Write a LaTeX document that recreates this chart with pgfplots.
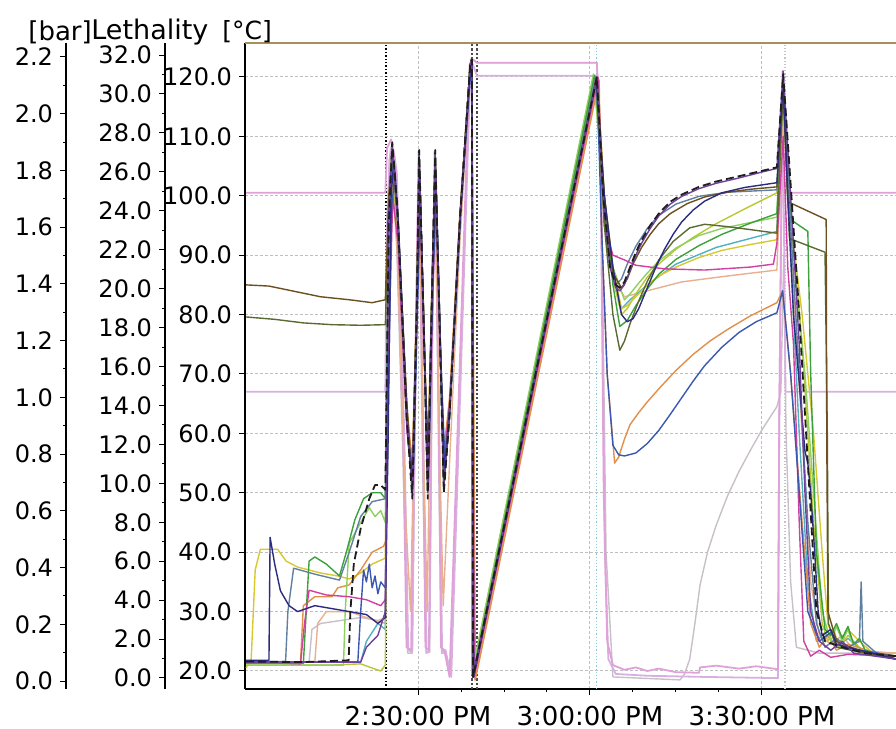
\documentclass[border=0pt]{standalone}
\usepackage{pgfplots}
\pgfplotsset{compat=1.18}
\usepackage{fontspec}
\setmainfont{DejaVu Sans}

\definecolor{cblack}{HTML}{1E1E1E}
\definecolor{cnavy}{HTML}{2B2B80}
\definecolor{cblue}{HTML}{3A58B0}
\definecolor{corange}{HTML}{E0904A}
\definecolor{cbrown}{HTML}{6B5020}
\definecolor{colive}{HTML}{5A6A30}
\definecolor{cyellow}{HTML}{D8C830}
\definecolor{clgreen}{HTML}{90D060}
\definecolor{cgreen}{HTML}{3CA03C}
\definecolor{cmagenta}{HTML}{D040A0}
\definecolor{cgblue}{HTML}{6080A0}
\definecolor{cygreen}{HTML}{B8C838}
\definecolor{cteal}{HTML}{50B0C0}
\definecolor{cpurple}{HTML}{7040A0}
\definecolor{cpeach}{HTML}{E8B090}
\definecolor{clilac}{HTML}{D8B0E0}
\definecolor{cpink}{HTML}{E0A0D8}
\definecolor{cgray}{HTML}{C8C0C8}
\definecolor{ctop}{HTML}{A89058}

\begin{document}
\begin{tikzpicture}
\pgfplotsset{
  every axis/.append style={
    scale only axis, anchor=south west, height=323pt,
    font=\fontsize{12}{14}\selectfont,
    /pgf/number format/assume math mode=true,
    tick align=outside, major tick length=3pt, minor tick length=1.5pt,
    tick style={black, line width=0.5pt},
    axis line style={black, line width=0.9pt},
  },
}
% [bar] axis
\begin{axis}[at={(33pt,20pt)}, width=1pt,
  xmin=0, xmax=1, axis x line=none, axis y line*=left,
  ymin=-0.028, ymax=2.249,
  ytick={0,0.2,0.4,0.6,0.8,1.0,1.2,1.4,1.6,1.8,2.0,2.2},
  minor y tick num=1,
  yticklabel style={/pgf/number format/.cd, fixed, fixed zerofill, precision=1},
]
\end{axis}
% Lethality axis
\begin{axis}[at={(82.5pt,20pt)}, width=1pt,
  xmin=0, xmax=1, axis x line=none, axis y line*=left,
  ymin=-0.565, ymax=32.62,
  ytick={0,2,...,32},
  minor y tick num=1,
  yticklabel style={/pgf/number format/.cd, fixed, fixed zerofill, precision=1},
]
\end{axis}
% temperature axis
\begin{axis}[at={(122.5pt,20pt)}, width=325.5pt,
  xmin=-0.18, xmax=113.38, ymin=16.97, ymax=125.72,
  axis x line*=bottom, axis y line*=left,
  xtick={30,60,90},
  xticklabels={2:30:00 PM,3:00:00 PM,3:30:00 PM},
  xticklabel style={font=\fontsize{13}{15}\selectfont, yshift=-2pt},
  minor x tick num=3,
  ytick={20,30,...,120},
  yticklabel style={/pgf/number format/.cd, fixed, fixed zerofill, precision=1},
  grid=major,
  major grid style={gray!50, line width=0.5pt, dash pattern=on 1.5pt off 1pt},
  every axis plot/.append style={no marks, line width=0.7pt, line join=round},
]
% event markers
\addplot[black, line width=0.7pt, densely dotted] coordinates {(24.42,16.97) (24.42,125.72)};
\addplot[black!70, line width=1.1pt, densely dotted] coordinates {(39.42,16.97) (39.42,125.72)};
\addplot[black!70, line width=1.1pt, densely dotted] coordinates {(40.29,16.97) (40.29,125.72)};
\addplot[cteal!70, line width=0.6pt, densely dotted] coordinates {(61.2,16.97) (61.2,125.72)};
\addplot[cgray, line width=0.6pt, densely dotted] coordinates {(94.0,16.97) (94.0,125.72)};

% light traces
\addplot[cgray] coordinates {(0,21.5)(11,21.5)(11.5,27)(13,28)(20,29)(23,28.5)(24.3,29)
 (24.5,95)(25.2,108)(25.9,104)(27.4,55)(28.2,23)(29.0,23)(29.6,75)(30.1,106)(30.8,55)(31.4,23)(32.0,23.2)(32.5,75)(33.0,106)(33.6,55)(34.1,23)(34.8,23)(35.7,19.5)(39.1,122)(39.6,123)(40.3,122.4)(61.2,122.4)
 (62,100)(62.8,40)(64,19)(75.7,18.5)(76.5,19.5)(77.4,22)(78.3,28)(79.2,34.5)(80.5,40)(82,44.5)(84,49.5)(86,53.6)(88,57.2)(90,60.6)(92.6,64.5)(93.3,67)(93.8,90)(94.2,60)(95,35)(96,24)(100,23)(113.4,23)};
\addplot[clilac, line width=0.9pt] coordinates {(0,67)(24.3,67)(24.5,90)(25.0,106)(25.5,109)(26.3,104)(27.6,60)(28.3,23.5)(29.0,23.2)(29.7,80)(30.2,107.7)(30.9,60)(31.5,23.2)(32.0,23.2)(32.5,80)(33.0,107.7)(33.7,60)(34.2,23.2)(34.8,23.5)(35.8,19)(39.2,123)(40.3,120.2)(61.2,120.2)
 (62.0,100)(62.6,40)(63.2,22)(64.5,19.5)(70,19.2)(80,19)(92.8,18.8)(93.0,60)(93.6,120)(94.1,67)(113.4,67)};
\addplot[cpink, line width=0.9pt] coordinates {(0,100.5)(24.3,100.5)(24.6,108)(25.3,109.5)(26.0,106)(27.4,60)(28.0,24)(28.8,23.5)(29.5,70)(30.1,107.5)(30.8,65)(31.3,24)(31.9,23.5)(32.4,70)(32.9,107.5)(33.6,65)(34.0,24)(34.6,23.5)(35.5,19)(39.0,122)(39.4,123)(40.3,122.4)(61.2,122.4)
 (61.8,110)(62.4,50)(63.0,25)(64,21)(66,20.2)(68,20.6)(70,20.0)(72,20.4)(75,19.8)(79,19.7)(79.2,20.6)(82,20.9)(86,20.4)(89,20.8)(92.8,20.3)(93.0,60)(93.6,121)(94.5,100.5)(113.4,100.5)};
\addplot[cpeach] coordinates {(0,21.5)(12,21.5)(12.5,28)(14,30)(18,30)(21,29)(24.3,28)
 (24.9,85)(25.5,103)(26.4,90)(27.9,45)(28.7,30)(29.6,75)(30.2,103)(30.9,60)(31.6,30)(32.3,75)(33.0,103)(33.7,60)(34.4,31)(35.5,55)(37.3,92)(39.1,121)(39.4,122)(39.9,18.5)(61.4,119.5)
 (62.5,96)(64,86)(66,83)(70,84)(76,85.5)(84,86.5)(92.6,87.5)(93.7,115)(95,92)(97,60)(98.5,35)(100,26)(102,24.5)(104,26)(106,23.5)(113.4,23)};
\addplot[cteal] coordinates {(0,21.5)(20,21.5)(21,25)(23,28)(24.3,27)
 (24.9,92)(25.5,105)(26.4,96)(28.0,63)(29.0,52)(29.8,82)(30.2,104)(31.0,78)(31.7,52)(32.4,82)(33.0,104)(33.8,77)(34.5,53)(35.5,64)(37.3,96)(39.1,122)(39.4,123)(39.5,19.5)(60.9,120)
 (62.5,98)(64,86)(65.5,81)(67,82.5)(70,85)(75,88.5)(82,91.3)(92.6,94)(93.7,118)(95,90)(96.5,60)(98,35)(99.5,25)(101,26.5)(103,24)(105,25.5)(108,23)(113.4,22)};

% coloured traces
\addplot[cygreen] coordinates {(0,21)(15,21)(20,21.2)(22,20.5)(23.5,20)(24.3,21)
 (24.9,90)(25.5,104)(26.4,95)(28.0,62)(29.0,53)(29.8,81)(30.2,103)(31.0,77)(31.7,53)(32.4,81)(33.0,103)(33.8,76)(34.5,54)(35.5,64)(37.3,96)(39.1,122)(39.4,123)(39.4,19.5)(60.7,120)
 (62.5,98)(64,86)(65.5,80)(66.5,81)(68,83.5)(70,86.3)(72,88.5)(75,91)(78,93)(82,95.3)(87,97.8)(92.6,100.5)(93.7,119)(95,97)(97,75)(99,45)(100.5,28)(101.5,25)(102.5,27)(103.5,24)(105,26)(108,23)(113.4,22.5)};
\addplot[cyellow] coordinates {(0,20.5)(0.9,22)(1.6,37)(2.5,40.5)(5.5,40.5)(7,38.5)(9,37.5)(13,36.5)(16,36)(18,35.5)(20,36.5)(22,38)(24.3,39)
 (24.9,88)(25.5,105)(26.4,95)(28.0,62)(29.0,55)(29.8,82)(30.2,104)(31.0,78)(31.7,55)(32.4,82)(33.0,104)(33.8,77)(34.5,56)(35.5,65)(37.3,96)(39.1,122)(39.4,123)(39.7,19)(61.3,120)
 (62.5,100)(64,88)(65.5,81)(66.5,81.5)(68,83)(70,85)(72,86.5)(75,88)(79,89.6)(83,90.8)(88,91.8)(92.6,92.6)(93.7,118)(95,96)(97,80)(99,60)(100.5,40)(101.5,28)(103,24)(105,27)(107,25)(110,22.5)(113.4,23)};
\addplot[corange] coordinates {(0,21.5)(9.5,21.5)(10,31)(12,32.5)(15,32.5)(16,34)(18,34.5)(20,37)(22,40)(24,41)(24.4,42)
 (25.0,90)(25.6,107)(26.5,96)(28.1,64)(29.0,55)(29.8,84)(30.2,105)(31.0,80)(31.7,56)(32.4,84)(33.0,105)(33.8,78)(34.5,57)(35.5,66)(37.3,97)(39.1,122)(39.4,123)(40.0,18.5)(61.6,119.5)
 (62,95)(63,70)(64.3,55)(65,56)(66,59)(67,61.5)(68.5,63.5)(70,65.3)(72,67.5)(75,70.6)(78,73.3)(81,75.6)(84,77.5)(88,79.8)(92.6,82)(93.6,84)(95,70)(97,45)(98.5,28)(100,24)(101.5,26)(103,23.5)(105,24.5)(113.4,22)};
\addplot[clgreen] coordinates {(0,21)(17,21)(17.3,30)(18,41.5)(20,45)(21.5,47.5)(22.5,46)(23.5,47)(24.3,45)
 (24.9,96)(25.5,108)(26.4,98)(28.0,64)(29.0,52)(29.8,83)(30.2,107)(31.0,78)(31.7,52)(32.4,83)(33.0,107)(33.8,77)(34.5,53)(35.5,64)(37.3,96)(39.1,122)(39.4,123)(39.4,19.5)(60.6,120.5)
 (62.5,100)(64,88)(66,82.5)(67,83.5)(68.5,85.3)(70,87)(72,89)(75,91.2)(79,93.3)(83,94.5)(88,95.5)(92.6,96.4)(93.7,119)(95,97)(96,85)(97.5,70)(99,50)(100.5,30)(102,25)(103,27.5)(104,25)(105,27)(106,24)(108,23)(113.4,22)};
\addplot[cgreen] coordinates {(0,21.3)(10,21.3)(10.5,30)(11,38.5)(12,39.2)(14,38)(16.3,36)(17.5,40)(19,45.5)(20.5,49)(22,50)(23.5,50)(24.3,49)
 (24.9,97)(25.5,108)(26.4,98)(28.0,64)(29.0,50)(29.8,82)(30.2,107)(31.0,78)(31.7,50)(32.4,82)(33.0,107)(33.8,77)(34.5,51)(35.5,63)(37.3,96)(39.1,122)(39.4,123)(39.5,19)(60.8,120.3)
 (62.5,100)(64,85)(65.2,78)(66.5,79)(68,81.5)(70,84.3)(72,86.8)(75,89.3)(79,91.6)(83,93.5)(88,95.4)(92.6,97)(93.7,119)(95,96)(98,94)(98.5,70)(99.5,40)(101,27)(102,26)(103,28)(104,25.5)(105,27.5)(106,24.5)(107,25.5)(108,23.5)(113.4,22)};
\addplot[cgblue] coordinates {(0,21.6)(6.9,21.6)(7.3,30)(8.3,37.3)(12,36.3)(16.3,35.3)(18,40)(20,46)(22,48.5)(24.3,49)
 (24.9,94)(25.5,106)(26.4,96)(28.0,63)(29.0,51)(29.8,82)(30.2,105)(31.0,78)(31.7,51)(32.4,82)(33.0,105)(33.8,77)(34.5,52)(35.5,63)(37.3,96)(39.1,122)(39.4,123)(39.6,19)(61.0,120)
 (62.5,96)(63.5,88)(64.5,85)(65.5,86)(66.5,88.5)(68,91.5)(70,94.5)(72,96.7)(75,98.6)(79,99.9)(84,100.6)(92.6,101)(93.7,118)(95,95)(96.5,70)(98,45)(99.5,28)(101,24)(103,25.5)(105,24)(107,25)(107.3,35)(107.6,25)(110,23)(113.4,22)};
\addplot[cmagenta] coordinates {(0,21.5)(9.5,21.2)(10.2,28)(11,33.6)(14,32.8)(18,32.5)(21,32)(23.5,31)(24.3,32)
 (24.9,75)(25.6,100)(26.5,92)(28.1,60)(29.0,54)(29.8,80)(30.3,100)(31.0,75)(31.8,55)(32.5,80)(33.1,100)(33.9,72)(34.6,56)(35.6,66)(37.4,97)(39.1,121)(39.4,122)(39.8,19)(61.4,120)
 (62.5,95)(64,90)(66,89.2)(68,88.3)(73,87.7)(80,87.5)(88,88)(92,88.5)(92.6,92)(93.7,110)(94.5,88)(95.5,75)(96.5,45)(97.3,25)(98.5,22.5)(100,23.5)(102,22.3)(105,22.8)(113.4,22.5)};
\addplot[cblue] coordinates {(0,21.5)(19.5,21.5)(20,30)(20.5,37)(21,35)(21.5,38)(22,34)(22.5,36)(23,33)(23.5,35)(24.3,34)
 (24.9,70)(25.4,98)(26.0,104)(26.8,90)(28.3,58)(29.2,53)(30.0,84)(30.4,100)(31.2,70)(31.9,55)(32.6,86)(33.2,100)(34.0,72)(34.7,55)(35.8,68)(37.5,98)(39.2,121)(39.4,122)(39.7,19.5)(61.2,120)
 (62,95)(63,70)(64,58)(65,56.4)(66,56.2)(68,56.7)(70,58.3)(72,60.5)(74,63.2)(76,66)(78,68.8)(80,71.4)(83,74.5)(86,77)(89,78.8)(92.6,80.3)(93.6,84)(95,70)(96.5,50)(98,30)(100,25)(102,26.5)(104,24)(113.4,22.5)};
\addplot[colive] coordinates {(0,79.6)(5,79.2)(10,78.6)(15,78.3)(20,78.2)(24.3,78.3)
 (24.9,98)(25.5,107)(26.4,97)(28.0,65)(29.0,50)(29.8,82)(30.2,106)(31.0,79)(31.7,50)(32.4,82)(33.0,106)(33.8,78)(34.5,51)(35.5,63)(37.3,96)(39.1,122)(39.4,123)(39.6,19)(61.1,120)
 (62.5,95)(64,80)(65.2,74)(66,75.5)(67,78.5)(68.5,82.3)(70,85.6)(72,89.2)(74.5,92.3)(77.4,94.6)(80,95.2)(84,94.8)(88,94.3)(92.6,93.7)(93.7,118)(94.8,92.8)(101,90.5)(101.4,60)(101.6,28)(103,24)(108,23)(113.4,22)};
\addplot[cbrown] coordinates {(0,85)(4,84.8)(8,84)(13,83)(18,82.5)(22,82)(24.3,82.5)
 (24.9,100)(25.5,108)(26.4,97)(28.0,66)(29.0,51)(29.8,83)(30.2,106)(31.0,79)(31.7,51)(32.4,83)(33.0,106)(33.8,78)(34.5,52)(35.5,64)(37.3,96)(39.1,122)(39.4,123)(39.6,19)(61.2,120)
 (62.5,100)(64,87)(65.5,84.5)(66.5,86)(67.5,88.5)(69,91.3)(70.5,93.5)(72,95.3)(74,97)(77,98.7)(80,99.8)(84,100.6)(88,101.1)(92.6,101.5)(93.7,119)(94.5,99)(101.2,96)(101.3,60)(101.5,30)(103,25)(108,23)(113.4,22.5)};
\addplot[cnavy] coordinates {(0,21.8)(4.0,21.8)(4.2,42.5)(5,38)(6,33.5)(7.5,31)(9,30)(12,31)(15,30.5)(18,30)(21,29.5)(23,28)(24.3,29)
 (24.8,60)(25.3,100)(25.8,106)(26.6,95)(28.2,60)(29.1,52)(29.9,85)(30.3,104)(31.1,75)(31.8,52)(32.5,85)(33.1,104)(33.9,75)(34.6,53)(35.6,65)(37.4,97)(39.1,121)(39.4,122.5)(39.7,19)(61.1,119.5)
 (62.5,100)(64,88)(65.5,80)(66.5,78.8)(67.5,79.3)(68.5,81)(70,84.5)(71.5,88)(73,91)(74.5,93.5)(76,95.6)(78,97.6)(80,99.1)(83,100.5)(87,101.4)(92.6,102.2)(93.7,119)(94.5,100)(95.5,80)(96.8,65)(97.5,57)(98,55)(98.5,50)(99.2,40)(99.8,30)(100.5,26)(102,27)(103,24.5)(105,24)(113.4,22)};
\addplot[cpurple] coordinates {(0,21.5)(20,21.5)(21,24)(23,26)(24.3,30)
 (24.9,97)(25.5,108)(26.4,97)(28.0,64)(29.0,50)(29.8,82)(30.2,107)(31.0,78)(31.7,50)(32.4,82)(33.0,107)(33.8,77)(34.5,51)(35.5,63)(37.3,96)(39.1,122)(39.4,123)(39.6,19)(61.2,120)
 (62.3,100)(63.5,88)(64.5,84.5)(65.2,84)(66,85)(67,87.5)(68,90)(69,92)(70.5,94.5)(72,96.6)(74,98.6)(76,99.9)(79,101.2)(82,102.1)(86,103)(90,104)(92.6,104.6)(93.7,121)(95,100)(96.5,75)(97.5,50)(98.5,30)(100,25)(102,23.5)(104,25)(106,23)(113.4,22)};
\addplot[cblack, dash pattern=on 4pt off 2pt, line width=0.9pt] coordinates {(0,21.6)(10,21.5)(17.9,21.8)(18.2,30)(18.8,38)(20,44)(21.5,49)(22.5,51.3)(23.5,51.3)(24.3,50.5)
 (24.9,95)(25.5,109)(26.4,98)(28.0,63)(29.0,49)(29.8,82)(30.2,107.7)(31.0,78)(31.7,49)(32.4,82)(33.0,107.7)(33.8,77)(34.5,50)(35.5,63)(37.3,96)(39.1,122)(39.4,123)(39.6,19)(61.2,120)
 (62.3,100)(63.5,88)(64.5,85)(65.2,84.5)(66,85.5)(67,88)(68,90.5)(69,92.5)(70.5,95)(72,97)(74,99)(76,100.2)(79,101.5)(82,102.4)(86,103.3)(90,104.2)(92.6,104.8)(93.7,120.5)(95,102)(96.5,80)(98,55)(99.5,30)(101,25)(104,24)(108,23)(113.4,22.5)};

\draw[ctop, line width=1pt] (rel axis cs:0,1) -- (rel axis cs:1,1);
\end{axis}

\node[anchor=west, inner sep=0, font=\fontsize{13}{15}\selectfont] at (14pt,348.5pt) {[bar]};
\node[anchor=west, inner sep=0, font=\fontsize{13.5}{15}\selectfont] at (45.5pt,348.5pt) {Lethality};
\node[anchor=west, inner sep=0, font=\fontsize{12.5}{14}\selectfont] at (111pt,348.5pt) {[°C]};

\pgfresetboundingbox
\path[use as bounding box] (0,0) rectangle (448pt,364.5pt);
\end{tikzpicture}
\end{document}
